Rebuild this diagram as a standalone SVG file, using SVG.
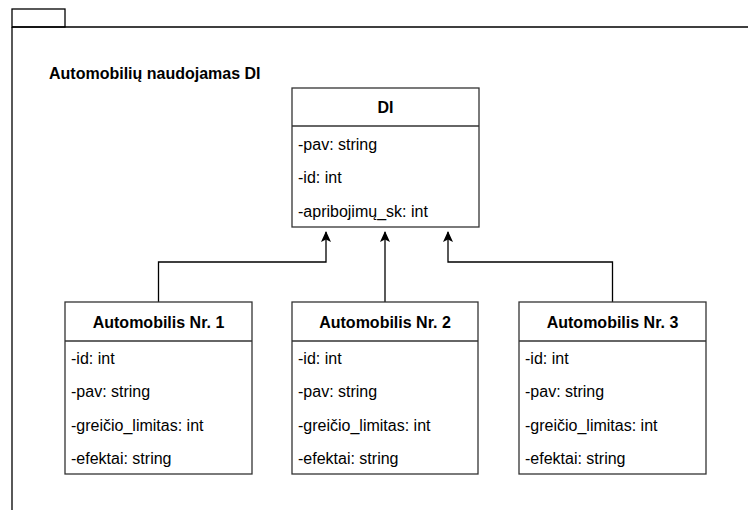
<svg xmlns="http://www.w3.org/2000/svg" width="748" height="510" viewBox="0 0 748 510">
<style>
  .frame{fill:none;stroke:#000;stroke-width:1.3}
  .box{fill:#fff;stroke:#333;stroke-width:1.3}
  .sep{stroke:#333;stroke-width:1.3}
  .hdr{font-family:"Liberation Sans",Arial,sans-serif;font-size:16px;font-weight:bold;fill:#000;text-anchor:middle}
  .attr{font-family:"Liberation Sans",Arial,sans-serif;font-size:16px;fill:#000}
  .title{font-family:"Liberation Sans",Arial,sans-serif;font-size:16px;font-weight:bold;fill:#000}
  .conn{fill:none;stroke:#000;stroke-width:1.3}
</style>
<defs>
  <marker id="arr" markerUnits="userSpaceOnUse" markerWidth="12" markerHeight="14" viewBox="-6 -1 12 14" refX="0" refY="0" orient="auto-start-reverse">
    <path d="M0,0 L5,11 L0,8.5 L-5,11 Z" fill="#000" transform="rotate(0)"/>
  </marker>
</defs>
<g id="frame">
  <rect class="frame" x="12" y="9" width="53" height="18"/>
  <path class="frame" d="M12,27 H748 M12,27 V510"/>
  <text class="title" x="49" y="79">Automobilių naudojamas DI</text>
</g>
<g id="connectors">
  <path class="conn" d="M158.5,302 V262 H326 V232"/>
  <path d="M326,231 l5,11 l-5,-2.5 l-5,2.5 Z" fill="#000"/>
  <path class="conn" d="M385,302 V232"/>
  <path d="M385,231 l5,11 l-5,-2.5 l-5,2.5 Z" fill="#000"/>
  <path class="conn" d="M612.5,302 V262 H448 V232"/>
  <path d="M448,231 l5,11 l-5,-2.5 l-5,2.5 Z" fill="#000"/>
</g>
<g id="DI">
  <rect class="box" x="292" y="88" width="187" height="139"/>
  <line class="sep" x1="292" y1="126" x2="479" y2="126"/>
  <text class="hdr" x="385.5" y="113">DI</text>
  <text class="attr" x="298" y="149.5">-pav: string</text>
  <text class="attr" x="298" y="183">-id: int</text>
  <text class="attr" x="298" y="216.5">-apribojimų_sk: int</text>
</g>
<g id="auto1">
  <rect class="box" x="65" y="302" width="187" height="172"/>
  <line class="sep" x1="65" y1="341" x2="252" y2="341"/>
  <text class="hdr" x="158.5" y="327.5">Automobilis Nr. 1</text>
  <text class="attr" x="71" y="364">-id: int</text>
  <text class="attr" x="71" y="397">-pav: string</text>
  <text class="attr" x="71" y="430.5">-greičio_limitas: int</text>
  <text class="attr" x="71" y="464">-efektai: string</text>
</g>
<g id="auto2">
  <rect class="box" x="292" y="302" width="186" height="172"/>
  <line class="sep" x1="292" y1="341" x2="478" y2="341"/>
  <text class="hdr" x="385" y="327.5">Automobilis Nr. 2</text>
  <text class="attr" x="298" y="364">-id: int</text>
  <text class="attr" x="298" y="397">-pav: string</text>
  <text class="attr" x="298" y="430.5">-greičio_limitas: int</text>
  <text class="attr" x="298" y="464">-efektai: string</text>
</g>
<g id="auto3">
  <rect class="box" x="519" y="302" width="187" height="172"/>
  <line class="sep" x1="519" y1="341" x2="706" y2="341"/>
  <text class="hdr" x="612.5" y="327.5">Automobilis Nr. 3</text>
  <text class="attr" x="525" y="364">-id: int</text>
  <text class="attr" x="525" y="397">-pav: string</text>
  <text class="attr" x="525" y="430.5">-greičio_limitas: int</text>
  <text class="attr" x="525" y="464">-efektai: string</text>
</g>
</svg>
